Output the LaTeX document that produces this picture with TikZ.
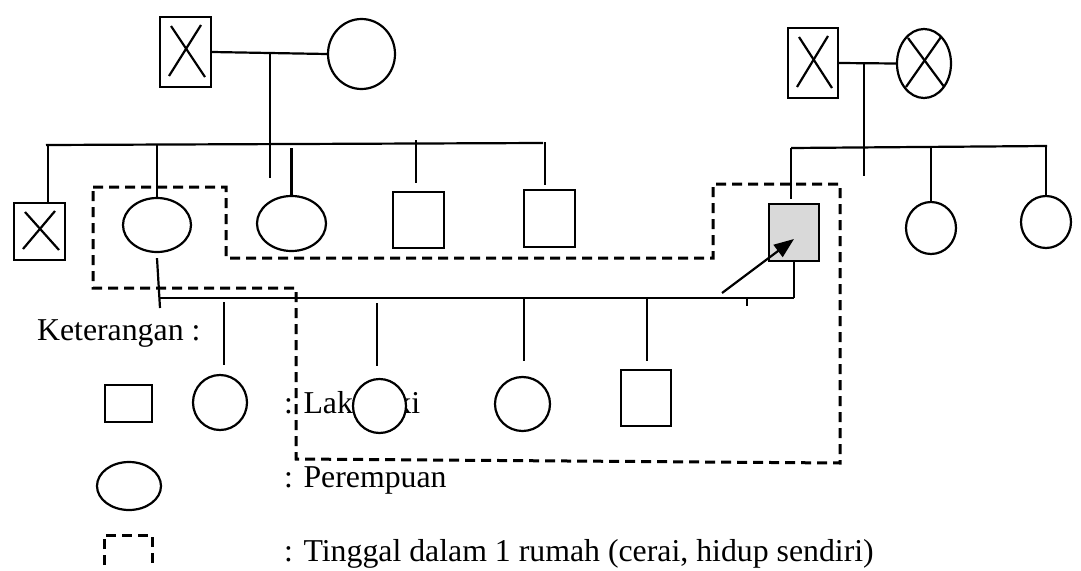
\documentclass[tikz,border=0pt]{standalone}
\usepackage{fontspec}
\setmainfont{Liberation Serif}
\usetikzlibrary{shapes.geometric, arrows.meta}

\begin{document}
\begin{tikzpicture}[x=1pt, y=-1pt,
    line width=2.2pt,
    lk/.style={
        draw,
        rectangle,
        fill=white,
        inner sep=0pt,
        minimum width=50pt,
        minimum height=57pt},
    pr/.style={
        draw,
        ellipse,
        fill=white,
        inner sep=0pt,
        minimum width=54pt,
        minimum height=54pt},
    mati/.style={path picture={
        \draw ([shift={(11pt,-9pt)}]path picture bounding box.north west)
            -- ([shift={(-6pt,10pt)}]path picture bounding box.south east);
        \draw ([shift={(-10pt,-8pt)}]path picture bounding box.north east)
            -- ([shift={(9pt,11pt)}]path picture bounding box.south west);}},
    rumah/.style={line width=3pt, dash pattern=on 10pt off 6pt},
    ket/.style={anchor=base west, inner sep=0pt,
        font=\fontsize{31.8}{38}\selectfont}]

    \useasboundingbox (0,0) rectangle (1081,570);

    % keterangan
    \node[ket] (ket) at (36,340) {Keterangan :};
    \node[ket] (tLaki) at (283,413) {: Laki-laki};
    \node[ket] (tPr) at (283,487) {: Perempuan};
    \node[ket] (tRumah) at (283,561) {: Tinggal dalam 1 rumah (cerai, hidup sendiri)};
    \node[lk, minimum width=47pt, minimum height=37pt] (lgLk) at (128.5,403.5) {};
    \node[pr, minimum width=64pt, minimum height=48pt] (lgPr) at (129,486) {};
    \draw[rumah] (104,565) -- (104,535) -- (152,535) -- (152,565);

    % generasi 1, kiri
    \node[lk, mati, minimum width=51pt, minimum height=70pt] (kakekA) at (185.5,52) {};
    \node[pr, minimum width=67pt, minimum height=70pt] (nenekA) at (361.5,54) {};
    \draw (kakekA.east) -- (nenekA.west);
    \coordinate (tengahA) at (270,53);
    \draw (tengahA) -- ++(0,125);

    \coordinate (sibA1) at (48,145);
    \coordinate (sibA2) at (543,143);
    \draw (46,145) -- (sibA2);

    % generasi 2, kiri
    \node[lk, mati, minimum width=51pt, minimum height=57pt] (s1) at (39.5,231.5) {};
    \node[pr, minimum width=68pt, minimum height=54pt] (s2) at (157,225) {};
    \node[pr, minimum width=69pt, minimum height=55pt] (s3) at (291.5,223.5) {};
    \node[lk, minimum width=51pt, minimum height=56pt] (s4) at (418.5,220) {};
    \node[lk, minimum width=51pt, minimum height=57pt] (s5) at (549.5,218.5) {};

    \draw (sibA1) -- (sibA1 |- s1.north);
    \draw (s2.north) -- (s2.north |- sibA1);
    \draw (s3.north) -- ++(0,-47);
    \draw ([xshift=-2.5pt, yshift=8pt]s4.north) -- ++(0,-43);
    \draw ([xshift=-4.5pt, yshift=4pt]s5.north) -- ++(0,-43);

    % generasi 1, kanan
    \node[lk, mati, minimum width=50pt, minimum height=70pt] (kakekB) at (813,63) {};
    \node[pr, mati, minimum width=54pt, minimum height=69pt] (nenekB) at (924,63.5) {};
    \draw (kakekB.east) -- (nenekB.west);
    \coordinate (tengahB) at (864,62);
    \draw (tengahB) -- ++(0,114);

    \coordinate (sibB1) at (791,148);
    \coordinate (sibB2) at (1047,146);
    \draw (sibB1) -- (sibB2);

    % generasi 2, kanan
    \node[lk, fill=black!15, minimum width=50pt, minimum height=57pt] (p) at (794,232.5) {};
    \node[pr, minimum width=50pt, minimum height=52pt] (r1) at (931,228) {};
    \node[pr, minimum width=50pt, minimum height=52pt] (r2) at (1046,222) {};

    \draw (sibB1) -- ++(0,51);
    \draw (r1.north) -- ++(0,-54);
    \draw (r2.north) -- ++(0,-50);

    % pernikahan generasi 2
    \coordinate (nikah1) at (160,298);
    \coordinate (nikah2) at (794,298);
    \coordinate (ujung) at (160,308);
    \draw ([yshift=-5pt]s2.south) -- (ujung);
    \draw (nikah1) -- (nikah2);
    \draw (p.south) -- (nikah2);
    \draw (nikah2) ++(-47,0) -- ++(0,8);

    % generasi 3
    \node[pr, minimum width=54pt, minimum height=55pt] (k1) at (220,402.5) {};
    \node[pr, minimum width=53pt, minimum height=54pt] (k2) at (379.5,406) {};
    \node[pr, minimum width=55pt, minimum height=54pt] (k3) at (522.5,404) {};
    \node[lk, minimum width=50pt, minimum height=56pt] (k4) at (646,398) {};

    \draw ([xshift=4pt, yshift=9pt]k1.north) -- ++(0,-63);
    \draw ([xshift=-2.5pt, yshift=12pt]k2.north) -- ++(0,-63);
    \draw ([xshift=1.5pt, yshift=15pt]k3.north) -- ++(0,-63);
    \draw ([xshift=1pt, yshift=8pt]k4.north) -- ++(0,-63);

    % penanda
    \coordinate (panah) at (722,293);
    \draw[-{Triangle[length=20pt, width=15pt]}] (panah) -- ([yshift=-6.5pt]p.center);

    % tinggal dalam 1 rumah
    \draw[rumah] (93,187) -- (226,187) -- (226,258) -- (713,258) -- (713,184)
        -- (840,184) -- (840,463) -- (296,459) -- (296,288) -- (93,288) -- cycle;
\end{tikzpicture}
\end{document}
